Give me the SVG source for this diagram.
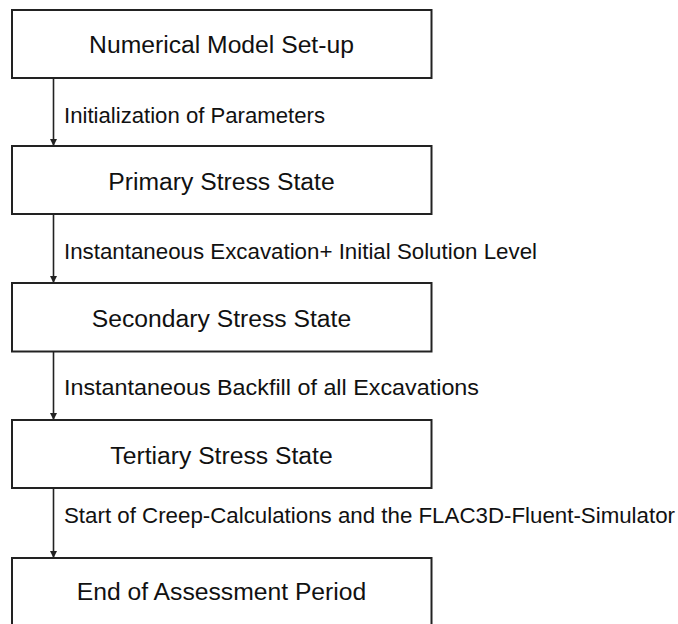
<svg xmlns="http://www.w3.org/2000/svg" width="678" height="624" viewBox="0 0 678 624">
<style>
.box{fill:#fff;stroke:#222;stroke-width:2}
.t{font-family:"Liberation Sans",Arial,sans-serif;font-size:24.7px;fill:#111;text-anchor:middle}
.l{font-family:"Liberation Sans",Arial,sans-serif;font-size:22px;fill:#111}
.c{stroke:#222;stroke-width:1.6;fill:none}
</style>
<defs>
<marker id="ah" viewBox="0 0 10 10" refX="10" refY="5" markerWidth="7" markerHeight="8" markerUnits="userSpaceOnUse" orient="auto">
<path d="M0,0 L10,5 L0,10 z" fill="#222"/>
</marker>
</defs>
<rect width="678" height="624" fill="#fff"/>
<g id="connectors">
<line class="c" x1="53.5" y1="78" x2="53.5" y2="146" marker-end="url(#ah)"/>
<line class="c" x1="53.5" y1="214" x2="53.5" y2="283" marker-end="url(#ah)"/>
<line class="c" x1="53.5" y1="352" x2="53.5" y2="420" marker-end="url(#ah)"/>
<line class="c" x1="53.5" y1="488" x2="53.5" y2="558" marker-end="url(#ah)"/>
<text class="l" x="64" y="122.7" textLength="261" lengthAdjust="spacingAndGlyphs">Initialization of Parameters</text>
<text class="l" x="64" y="259.3" textLength="473" lengthAdjust="spacingAndGlyphs">Instantaneous Excavation+ Initial Solution Level</text>
<text class="l" x="64" y="395" textLength="415" lengthAdjust="spacingAndGlyphs">Instantaneous Backfill of all Excavations</text>
<text class="l" x="64" y="523.3" textLength="611" lengthAdjust="spacingAndGlyphs">Start of Creep-Calculations and the FLAC3D-Fluent-Simulator</text>
</g>
<g id="n1"><rect class="box" x="12" y="10" width="419.5" height="68"/><text class="t" x="221.5" y="53.3">Numerical Model Set-up</text></g>
<g id="n2"><rect class="box" x="12" y="146" width="419.5" height="68"/><text class="t" x="221.5" y="190">Primary Stress State</text></g>
<g id="n3"><rect class="box" x="12" y="283" width="419.5" height="68.5"/><text class="t" x="221.5" y="326.7">Secondary Stress State</text></g>
<g id="n4"><rect class="box" x="12" y="420" width="419.5" height="68"/><text class="t" x="221.5" y="464">Tertiary Stress State</text></g>
<g id="n5"><rect class="box" x="12" y="558" width="419.5" height="68"/><text class="t" x="221.5" y="600">End of Assessment Period</text></g>
</svg>
